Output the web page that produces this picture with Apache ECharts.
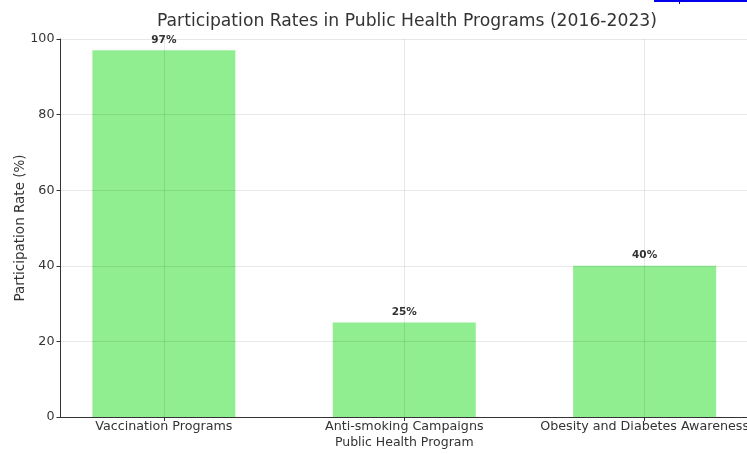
<!DOCTYPE html>
<html>
<head>
<meta charset="utf-8">
<script src="https://cdn.jsdelivr.net/npm/echarts@6/dist/echarts.min.js"></script>
<style>
  html, body { margin: 0; padding: 0; background: #fff; }
  #chart { width: 747px; height: 454px; }
</style>
</head>
<body>
<div id="chart"></div>
<script>
// Program categories and their participation rates (%)
const programs = ['Vaccination Programs', 'Anti-smoking Campaigns', 'Obesity and Diabetes Awareness'];
const rates = [97, 25, 40];
const yTicks = [0, 20, 40, 60, 80, 100];

const FONT = 'DejaVu Sans';
const TEXT = '#333333';
const GRID = 'rgba(0,0,0,0.09)';

const chart = echarts.init(document.getElementById('chart'), null, { renderer: 'canvas' });

const positions = programs.map((_, i) => i);

chart.setOption({
  animation: false,
  backgroundColor: '#ffffff',
  title: {
    text: 'Participation Rates in Public Health Programs (2016-2023)',
    left: 152,
    top: 8,
    textStyle: { fontFamily: FONT, fontSize: 17.2, fontWeight: 'normal', color: TEXT }
  },
  grid: {
    left: 60.5, top: 39, width: 687.5, height: 378,
    containLabel: false,
    outerBoundsMode: 'none'
  },
  xAxis: {
    type: 'value',
    min: -0.43,
    max: 2.43,
    z: 3,
    name: 'Public Health Program',
    nameLocation: 'middle',
    nameGap: 19,
    nameMoveOverlap: false,
    nameTextStyle: { fontFamily: FONT, fontSize: 12.5, color: TEXT, verticalAlign: 'top' },
    axisLine: { show: true, onZero: false, lineStyle: { color: '#333', width: 1 } },
    axisTick: { show: true, length: 4, customValues: positions, lineStyle: { color: '#333' } },
    axisLabel: {
      customValues: positions,
      margin: 3,
      fontFamily: FONT, fontSize: 12.7, color: TEXT,
      formatter: v => programs[Math.round(v)] || ''
    },
    splitLine: { show: false }
  },
  yAxis: {
    type: 'value',
    min: 0,
    max: 100,
    interval: 20,
    z: 3,
    name: 'Participation Rate (%)',
    nameLocation: 'middle',
    nameGap: 33,
    nameMoveOverlap: false,
    nameRotate: 90,
    nameTextStyle: { fontFamily: FONT, fontSize: 13.5, color: TEXT },
    axisLine: { show: true, onZero: false, lineStyle: { color: '#333', width: 1 } },
    axisTick: { show: true, length: 4, lineStyle: { color: '#333' } },
    axisLabel: {
      margin: 6, fontFamily: FONT, fontSize: 12.7, color: TEXT,
      formatter: v => (yTicks.indexOf(v) >= 0 ? String(v) : '')
    },
    splitLine: { show: true, lineStyle: { color: GRID, width: 1 } }
  },
  series: [{
    type: 'bar',
    barWidth: 143,
    data: rates.map((r, i) => [positions[i], r]),
    itemStyle: { color: '#90EE90' },
    label: {
      show: true,
      position: 'top',
      distance: 5,
      fontFamily: FONT,
      fontSize: 10.5,
      fontWeight: 'bold',
      color: TEXT,
      formatter: p => p.value[1] + '%'
    },
    markLine: {
      silent: true,
      symbol: 'none',
      z: 3,
      label: { show: false },
      lineStyle: { color: GRID, type: 'solid', width: 1 },
      data: positions.map(p => ({ xAxis: p }))
    }
  }],
  graphic: [
    { type: 'rect', left: 654, top: 0, shape: { width: 93, height: 2 }, style: { fill: '#0000ee' } },
    { type: 'rect', left: 679, top: 2, shape: { width: 1, height: 2 }, style: { fill: '#0000ee' } }
  ]
});
</script>
</body>
</html>
